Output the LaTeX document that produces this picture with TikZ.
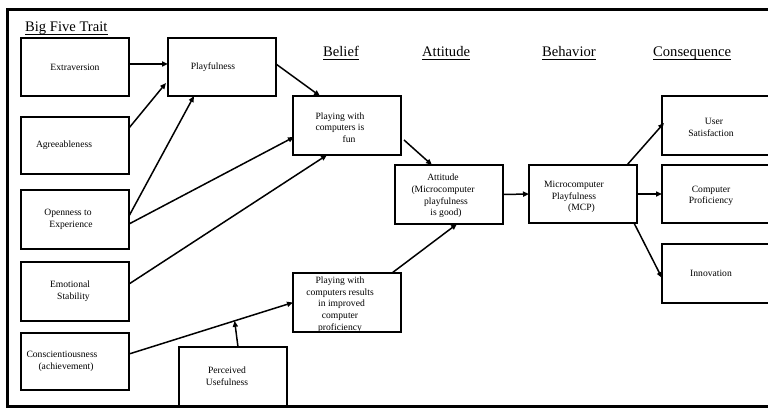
\documentclass[tikz,border=0pt]{standalone}
\usepackage{fontspec}
\setmainfont{Liberation Serif}
\usetikzlibrary{arrows.meta}
\begin{document}
\begin{tikzpicture}[x=1pt,y=-1pt,
  box/.style={draw, line width=1.5pt, minimum width=108pt, minimum height=58pt, inner sep=0pt, outer sep=0pt},
  txt/.style={align=center, font=\fontsize{9.6}{11.7}\selectfont, inner sep=0pt},
  head/.style={anchor=base west, font=\fontsize{14.6}{16}\selectfont, inner sep=0pt},
  uline/.style={line width=1pt},
  arr/.style={line width=1.5pt, -{Triangle[length=6pt,width=5pt]}}
]
\useasboundingbox (0,0) rectangle (768,409);
\clip (0,0) rectangle (768,409);

% headers
\node[head] (hbig) at (25,32) {Big Five Trait};
\node[head] (hbel) at (323,57) {Belief};
\node[head] (hatt) at (422,57) {Attitude};
\node[head] (hbeh) at (542,57) {Behavior};
\node[head] (hcon) at (653,57) {Consequence};
\foreach \h in {hbig,hbel,hatt,hbeh,hcon}
  \draw[uline] ([yshift=-2.5pt]\h.base west) -- ([yshift=-2.5pt]\h.base east);

% left column
\node[box, label={[txt]center:Extraversion}] (extra) at (75,67) {};
\node[box, minimum height=57pt, label={[txt,xshift=-11pt]center:Agreeableness}] (agree) at (75,145.5) {};
\node[box, minimum height=59pt, label={[txt,xshift=-7pt]center:{Openness to\\\hspace*{6pt}Experience}}] (open) at (75,219.5) {};
\node[box, minimum height=59pt, label={[txt,xshift=-5pt]center:{Emotional\\\hspace*{7pt}Stability}}] (emot) at (75,291.5) {};
\node[box, minimum height=57pt, label={[txt,xshift=-13pt]center:{Conscientiousness\\\hspace*{8pt}(achievement)}}] (consc) at (75,361.5) {};

\node[box, label={[txt,xshift=-9pt]center:Playfulness}] (playful) at (222,67) {};
\node[box, minimum height=59pt, label={[txt,xshift=-6pt,yshift=0.5pt]center:{Perceived\\Usefulness}}] (perc) at (233,376.5) {};

% belief
\node[box, minimum height=59pt, label={[txt,xshift=-7pt,yshift=-2pt]center:{Playing with\\computers is\\\hspace*{18pt}fun}}] (belief) at (347,125.5) {};
\node[box, minimum height=59pt, label={[txt,xshift=-7pt,yshift=-2pt]center:{Playing with\\computers results\\\hspace*{3pt}in improved\\computer\\proficiency}}] (results) at (347,302.5) {};

% attitude
\node[box, minimum height=59pt, label={[txt,xshift=-6pt,yshift=-1.5pt]center:{Attitude\\(Microcomputer\\\hspace*{6pt}playfulness\\\hspace*{6pt}is good)}}] (attit) at (449,194.5) {};

% behavior
\node[box, label={[txt,xshift=-9pt,yshift=-3pt]center:{Microcomputer\\Playfulness\\\hspace*{15pt}(MCP)}}] (mcp) at (583,194) {};

% consequence
\node[box, minimum height=59pt, label={[txt,xshift=-5pt,yshift=-2pt]center:{\hspace*{6pt}User\\Satisfaction}}] (usersat) at (716,125.5) {};
\node[box, label={[txt,xshift=-5pt,yshift=-2pt]center:{Computer\\Proficiency}}] (compprof) at (716,194) {};
\node[box, minimum height=59pt, label={[txt,xshift=-5pt]center:Innovation}] (innov) at (716,273.5) {};

% outer frame
\draw[line width=3pt] (7,10) rectangle (800,406);

% connectors
\draw[arr] ([yshift=3pt]extra.east) -- ([yshift=3pt]playful.west);
\draw[arr] ([yshift=-11pt]agree.north east) -- ([xshift=-2pt,yshift=13pt]playful.south west);
\draw[arr] ([yshift=3.5pt]open.east) -- ([xshift=-28pt]playful.south);
\draw[arr] ([yshift=-4.5pt]open.east) -- ([xshift=1pt,yshift=-11.5pt]belief.west);
\draw[arr] ([yshift=7.5pt]emot.east) -- ([xshift=-20pt]belief.south);
\draw[arr] ([yshift=3pt]playful.east) -- ([xshift=-27pt]belief.north);
\draw[arr] ([xshift=3pt,yshift=-14.5pt]belief.east) -- ([xshift=-17pt]attit.north);
\draw[arr] ([xshift=45pt]results.north) -- ([xshift=8pt]attit.south);
\draw[arr] (attit.east) -- (mcp.west);
\draw[arr] ([yshift=7.5pt]consc.east) -- coordinate[pos=0.644] (pu) (results.west);
\draw[arr] ([xshift=5pt]perc.north) -- (pu);
\draw[arr] ([xshift=-10pt]mcp.north east) -- ([xshift=2pt,yshift=2.5pt]usersat.west);
\draw[arr] (mcp.east) -- (compprof.west);
\draw[arr] ([xshift=-3pt]mcp.south east) -- ([yshift=-4.5pt]innov.west);
\end{tikzpicture}
\end{document}
